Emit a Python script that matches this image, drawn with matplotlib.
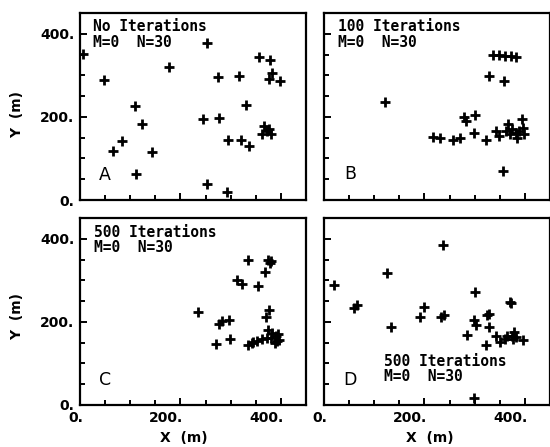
import matplotlib
matplotlib.use('Agg')
import matplotlib.pyplot as plt
from matplotlib.ticker import MultipleLocator
import matplotlib.transforms as mtransforms

# Panel A: No iterations
a_x = [5, 48, 66, 84, 109, 123, 143, 112, 177, 252, 244, 277, 252, 292, 274,
       317, 294, 320, 337, 330, 356, 378, 383, 377, 398, 366, 376, 363, 380, 372]
a_y = [352, 288, 118, 141, 226, 184, 116, 62, 320, 378, 196, 198, 38, 20, 296,
       299, 144, 144, 130, 228, 344, 338, 305, 292, 286, 178, 172, 158, 158, 166]

# Panel B: 100 iterations
b_x = [122, 218, 230, 257, 271, 278, 283, 300, 299, 322, 329, 337, 348, 360, 373,
       382, 358, 342, 348, 356, 366, 371, 385, 395, 396, 399, 383, 375, 362, 388]
b_y = [236, 152, 148, 144, 148, 200, 190, 204, 162, 144, 299, 349, 349, 347, 347,
       343, 287, 166, 154, 70, 182, 158, 150, 194, 174, 158, 161, 170, 166, 165]

# Panel C: 500 iterations
c_x = [234, 271, 298, 277, 282, 297, 313, 322, 335, 355, 368, 374, 381, 378, 376,
       370, 335, 343, 353, 363, 375, 383, 395, 388, 397, 380, 372, 390, 392, 345]
c_y = [224, 147, 159, 196, 201, 204, 300, 290, 350, 286, 320, 348, 346, 342, 228,
       211, 145, 150, 155, 159, 181, 173, 171, 150, 157, 161, 162, 165, 155, 152]

# Panel D: 500 iterations
d_x = [19, 60, 66, 126, 133, 192, 200, 232, 239, 237, 300, 284, 298, 302, 323,
       325, 328, 329, 343, 350, 370, 373, 361, 374, 379, 383, 396, 298, 365, 376]
d_y = [289, 234, 240, 318, 187, 212, 237, 212, 217, 384, 271, 169, 204, 193, 144,
       217, 220, 188, 167, 152, 247, 245, 159, 167, 175, 163, 157, 18, 165, 160]

panel_letters = ['A', 'B', 'C', 'D']
titles = ['No Iterations', '100 Iterations', '500 Iterations', '500 Iterations']
subtitle = 'M=0  N=30'
tick_vals = [0, 200, 400]
tick_labels = ['0.', '200.', '400.']

W, H = 550, 447
fig = plt.figure(figsize=(W / 100, H / 100), dpi=100)

def frac(px_left, px_top, w=226, h=187):
    return [px_left / W, (H - px_top - h) / H, w / W, h / H]

rects = [frac(80, 13), frac(324, 13), frac(80, 218), frac(324, 218)]
data = [(a_x, a_y), (b_x, b_y), (c_x, c_y), (d_x, d_y)]
text_pos = [(0.058, 0.93, 0.84), (0.062, 0.93, 0.84),
            (0.062, 0.925, 0.84), (0.265, 0.235, 0.15)]
letter_pos = [(0.11, 0.135), (0.115, 0.14), (0.11, 0.135), (0.115, 0.135)]

mono = 'DejaVu Sans Mono'
for i, (rect, (xs, ys)) in enumerate(zip(rects, data)):
    ax = fig.add_axes(rect)
    ax.plot(xs, ys, linestyle='none', marker='+', markersize=6.5,
            markeredgewidth=2.0, color='black', clip_on=True)
    ax.set_xlim(0, 450)
    ax.set_ylim(0, 450)
    for s in ax.spines.values():
        s.set_linewidth(1.6)
    ax.xaxis.set_minor_locator(MultipleLocator(50))
    ax.yaxis.set_minor_locator(MultipleLocator(50))
    ax.set_xticks(tick_vals)
    ax.set_yticks(tick_vals)
    ax.tick_params(which='both', direction='in', top=False, right=False, width=1.4)
    ax.tick_params(which='major', length=5, pad=4)
    ax.tick_params(which='minor', length=3.5)
    if i in (2, 3):
        ax.set_xticklabels(tick_labels, fontsize=10, fontweight='bold')
        off = mtransforms.ScaledTranslation(3 / 100, 0, fig.dpi_scale_trans)
        for lbl in ax.get_xticklabels():
            lbl.set_ha('right')
            lbl.set_transform(lbl.get_transform() + off)
    else:
        ax.set_xticklabels([])
    if i in (0, 2):
        ax.set_yticklabels(tick_labels, fontsize=10, fontweight='bold')
    else:
        ax.set_yticklabels([])
    tx, ty1, ty2 = text_pos[i]
    ax.text(tx, ty1, titles[i], transform=ax.transAxes, family=mono,
            fontweight='bold', fontsize=10.5, va='center', ha='left')
    ax.text(tx, ty2, subtitle, transform=ax.transAxes, family=mono,
            fontweight='bold', fontsize=10.5, va='center', ha='left')
    lx, ly = letter_pos[i]
    ax.text(lx, ly, panel_letters[i], transform=ax.transAxes, fontsize=12.5,
            va='center', ha='center')

# axis labels
fig.text(17 / W, 1 - 115 / H, 'Y  (m)', rotation=90, fontsize=10,
         fontweight='bold', ha='center', va='center')
fig.text(17 / W, 1 - 317 / H, 'Y  (m)', rotation=90, fontsize=10,
         fontweight='bold', ha='center', va='center')
fig.text(184 / W, 2 / H, 'X  (m)', fontsize=10,
         fontweight='bold', ha='center', va='bottom')
fig.text(430 / W, 2 / H, 'X  (m)', fontsize=10,
         fontweight='bold', ha='center', va='bottom')

fig.savefig('out.png', dpi=100)
